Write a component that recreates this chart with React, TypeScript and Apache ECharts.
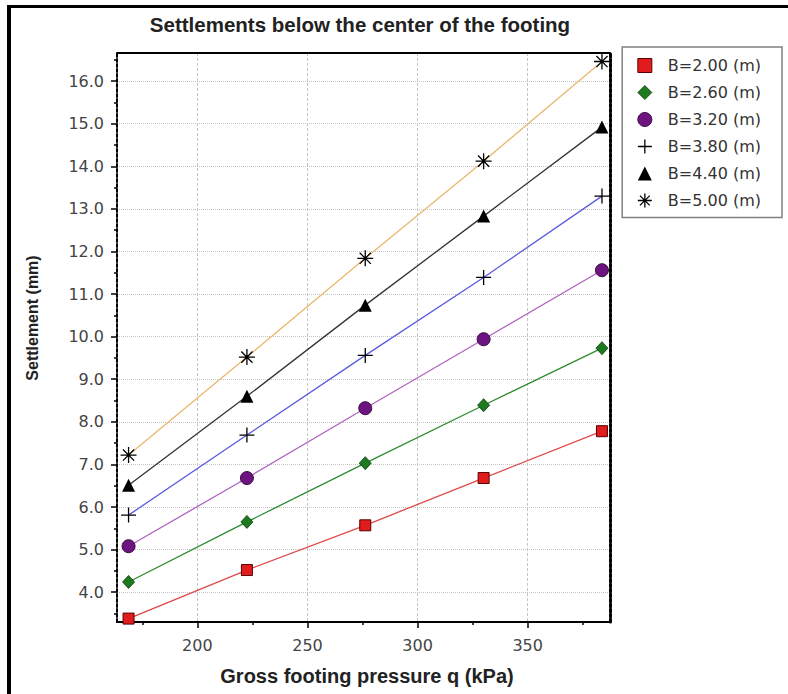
import React, { useEffect, useRef } from "react";
import * as echarts from "echarts";

const qValues = [168.75, 222.5, 276.25, 330, 383.75];
const s200 = [3.38, 4.52, 5.57, 6.68, 7.78];
const s260 = [4.24, 5.65, 7.03, 8.39, 9.73];
const s320 = [5.08, 6.68, 8.32, 9.94, 11.56];
const s380 = [5.81, 7.69, 9.56, 11.39, 13.3];
const s440 = [6.51, 8.6, 10.74, 12.83, 14.92];
const s500 = [7.22, 9.52, 11.84, 14.12, 16.46];

const seriesNames = ["B=2.00 (m)", "B=2.60 (m)", "B=3.20 (m)", "B=3.80 (m)", "B=4.40 (m)", "B=5.00 (m)"];
const xMajor = [200, 250, 300, 350];
const xMinor = [175, 225, 275, 325, 375];
const yMajor = [4, 5, 6, 7, 8, 9, 10, 11, 12, 13, 14, 15, 16];
const yMinor = [3.5, 4.5, 5.5, 6.5, 7.5, 8.5, 9.5, 10.5, 11.5, 12.5, 13.5, 14.5, 15.5, 16.5];

const PLUS = "path://M10,0L10,20M0,10L20,10";
const STAR = "path://M10,0L10,20M0,10L20,10M3,3L17,17M17,3L3,17";

const styles = [
  { data: s200, line: "#e04848", symbol: "rect", size: 11, fill: "#e01c1c", border: "#5a0000", bw: 1 },
  { data: s260, line: "#2e8b2e", symbol: "diamond", size: [12, 13], fill: "#1e7a1e", border: "#0a3a0a", bw: 0.8 },
  { data: s320, line: "#b064c0", symbol: "circle", size: 13, fill: "#6e1480", border: "#3a0a40", bw: 1 },
  { data: s380, line: "#5a5ae0", symbol: PLUS, size: 15, fill: "#000", border: "#000", bw: 1.3 },
  { data: s440, line: "#333333", symbol: "triangle", size: 13, fill: "#000", border: "#000", bw: 0 },
  { data: s500, line: "#e8b870", symbol: STAR, size: 16, fill: "#000", border: "#000", bw: 1.3 },
];

const FONT = "DejaVu Sans";

export default function App() {
  const ref = useRef<HTMLDivElement>(null);
  useEffect(() => {
    if (!ref.current) return;
    const chart = echarts.init(ref.current, null, { renderer: "svg" });
    const xMin = 163.5, xMax = 387.4, yMin = 3.3, yMax = 16.66;
    const option: any = {
      animation: false,
      backgroundColor: "#ffffff",
      title: {
        text: "Settlements below the center of the footing",
        left: 360,
        top: 14,
        padding: 0,
        textAlign: "center",
        textStyle: { fontFamily: "Liberation Sans", fontWeight: "bold", fontSize: 20.5, color: "#222" },
      },
      grid: { left: 117, top: 53, right: 178, bottom: 72, containLabel: false },
      legend: {
        orient: "vertical",
        right: 6,
        top: 47,
        padding: [10.5, 21, 9, 15],
        itemGap: 11,
        itemWidth: 14,
        itemHeight: 14,
        borderColor: "#808080",
        borderWidth: 1.5,
        backgroundColor: "#fff",
        textStyle: { fontFamily: FONT, fontSize: 16, color: "#333", padding: [0, 0, 0, 11] },
        data: seriesNames.map((n, i) => ({
          name: n,
          icon: styles[i].symbol,
          itemStyle: { color: styles[i].fill, borderColor: styles[i].border, borderWidth: styles[i].bw },
        })),
      },
      xAxis: [
        {
          type: "value",
          min: xMin,
          max: xMax,
          position: "bottom",
          axisLine: { show: true, onZero: false, lineStyle: { color: "#000", width: 2 } },
          axisTick: { show: true, customValues: xMajor, length: 6, lineStyle: { color: "#000", width: 1.5 } },
          axisLabel: { customValues: xMajor, margin: 15, fontFamily: FONT, fontSize: 16, color: "#444" },
          splitLine: { show: true, lineStyle: { color: "#c4c4c4", type: [3, 2], width: 1 } },
          minorTick: { show: false },
        },
        {
          type: "value",
          min: xMin,
          max: xMax,
          position: "bottom",
          axisLine: { show: false },
          axisTick: { show: true, customValues: xMinor, length: 3, lineStyle: { color: "#000", width: 1.5 } },
          axisLabel: { show: false },
          splitLine: { show: false },
        },
        {
          type: "value",
          min: xMin,
          max: xMax,
          position: "top",
          axisLine: { show: true, onZero: false, lineStyle: { color: "#000", width: 2 } },
          axisTick: { show: false },
          axisLabel: { show: false },
          splitLine: { show: false },
        },
      ],
      yAxis: [
        {
          type: "value",
          min: yMin,
          max: yMax,
          position: "left",
          axisLine: { show: true, onZero: false, lineStyle: { color: "#000", width: 2, type: [3, 2] } },
          axisTick: { show: true, customValues: yMajor, length: 6, lineStyle: { color: "#000", width: 1.5 } },
          axisLabel: {
            customValues: yMajor,
            margin: 13,
            fontFamily: FONT,
            fontSize: 16,
            color: "#444",
            formatter: (v: number) => v.toFixed(1),
          },
          splitLine: { show: true, lineStyle: { color: "#c4c4c4", type: "dotted", width: 1 } },
        },
        {
          type: "value",
          min: yMin,
          max: yMax,
          position: "left",
          axisLine: { show: false },
          axisTick: { show: true, customValues: yMinor, length: 3, lineStyle: { color: "#000", width: 1.5 } },
          axisLabel: { show: false },
          splitLine: { show: false },
        },
        {
          type: "value",
          min: yMin,
          max: yMax,
          position: "right",
          axisLine: { show: true, onZero: false, lineStyle: { color: "#000", width: 3, type: [3, 2] } },
          axisTick: { show: false },
          axisLabel: { show: false },
          splitLine: { show: false },
        },
      ],
      series: styles.map((s, i) => ({
        name: seriesNames[i],
        type: "line",
        xAxisIndex: 0,
        yAxisIndex: 0,
        data: qValues.map((q, j) => [q, s.data[j]]),
        symbol: s.symbol,
        symbolSize: s.size,
        showSymbol: true,
        lineStyle: { color: s.line, width: 1.3 },
        itemStyle: { color: s.fill, borderColor: s.border, borderWidth: s.bw },
        emphasis: { disabled: true },
        z: 3,
      })),
      graphic: [
        { type: "rect", shape: { x: 7, y: 5, width: 781, height: 3 }, style: { fill: "#000" }, z: 10 },
        { type: "rect", shape: { x: 7, y: 5, width: 4, height: 689 }, style: { fill: "#000" }, z: 10 },
        {
          type: "text",
          x: 367,
          y: 676,
          style: {
            text: "Gross footing pressure q (kPa)",
            fontFamily: "Liberation Sans",
            fontWeight: "bold",
            fontSize: 20,
            fill: "#222",
            textAlign: "center",
            textVerticalAlign: "middle",
          },
        },
        {
          type: "text",
          x: 32,
          y: 318,
          rotation: Math.PI / 2,
          style: {
            text: "Settlement (mm)",
            fontFamily: "Liberation Sans",
            fontWeight: "bold",
            fontSize: 16,
            fill: "#222",
            textAlign: "center",
            textVerticalAlign: "middle",
          },
        },
      ],
    };
    chart.setOption(option);
    return () => chart.dispose();
  }, []);
  return (
    <div
      ref={ref}
      style={{ position: "absolute", left: 0, top: 0, width: 788, height: 694, background: "#fff" }}
    />
  );
}
